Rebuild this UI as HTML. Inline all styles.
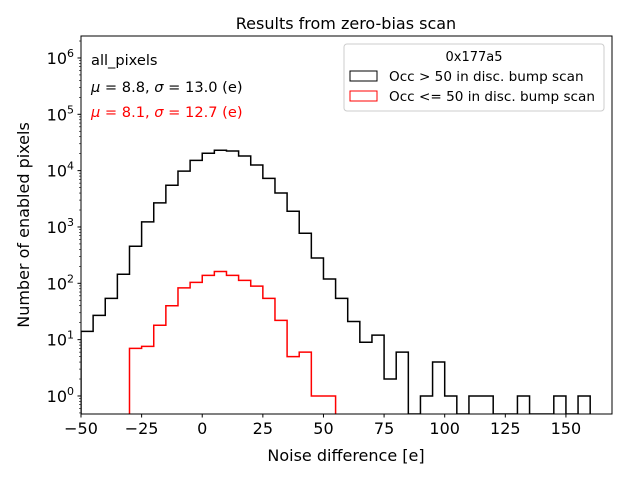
<!DOCTYPE html>
<html><head><meta charset="utf-8"><style>
body{margin:0;background:#fff;font-family:"Liberation Sans","DejaVu Sans",sans-serif}
svg text{font-family:"DejaVu Sans","Liberation Sans",sans-serif}
</style></head><body>
<svg id="chart" width="640" height="480" xmlns="http://www.w3.org/2000/svg">
<rect width="640" height="480" fill="#fff"/>
<text x="346" y="29" font-size="16" text-anchor="middle">Results from zero-bias scan</text>
<g id="plot"></g>
<rect x="81" y="36" width="531" height="378" fill="none" stroke="#000" stroke-width="1"/>
<text x="346" y="461" font-size="16" text-anchor="middle">Noise difference [e]</text>
<text transform="translate(29,225) rotate(-90)" font-size="16" text-anchor="middle">Number of enabled pixels</text>
<text x="91" y="65" font-size="14.6">all_pixels</text>
<text x="91" y="92" font-size="14.6"><tspan font-style="italic">μ</tspan> = 8.8, <tspan font-style="italic">σ</tspan> = 13.0 (e)</text>
<text x="91" y="117" font-size="14.6" fill="#f00"><tspan font-style="italic">μ</tspan> = 8.1, <tspan font-style="italic">σ</tspan> = 12.7 (e)</text>
<g>
<rect x="344" y="44" width="260" height="67" rx="3" fill="#fff" stroke="#ccc"/>
<text x="474" y="61" font-size="13" text-anchor="middle">0x177a5</text>
<rect x="350" y="71" width="27" height="10" fill="none" stroke="#000"/>
<text x="389" y="81" font-size="13.6">Occ &gt; 50 in disc. bump scan</text>
<rect x="350" y="91" width="27" height="10" fill="none" stroke="#f00"/>
<text x="389" y="101" font-size="13.6">Occ &lt;= 50 in disc. bump scan</text>
</g>
</svg>
<script>
const binStart = -50, binWidth = 5;
const blackCounts = [14,27,54,145,455,1230,2680,5500,9800,15200,20400,23000,22300,18200,12600,7300,4000,1900,775,282,119,54,21,9,12,2,6,0,1,4,1,0,1,1,0,0,1,0,0,1,0,1];
const redStart = -30;
const redCounts = [7,7.6,18,40,83,104,138,162,138,113,89,54,22,5,6,1,1];
const xTicks = [-50,-25,0,25,50,75,100,125,150];
const yTickExps = [0,1,2,3,4,5,6];
const X0=81,X1=612,Y0=414,Y1=36;
const xmin=-50,xmax=169;
const ymin=-0.32,ymax=6.39;
function sx(v){return X0+(v-xmin)/(xmax-xmin)*(X1-X0);}
function sy(v){if(v<=0)return Y0;const l=Math.log10(v);return Y0-(l-ymin)/(ymax-ymin)*(Y0-Y1);}
const NS="http://www.w3.org/2000/svg";
const plot=document.getElementById('plot');
function mk(t,a){const e=document.createElementNS(NS,t);for(const k in a)e.setAttribute(k,a[k]);return e;}
function stepPath(start,counts){
  let d="M"+sx(start)+","+Y0;
  counts.forEach((c,i)=>{const y=Math.min(sy(c),Y0);d+=" L"+sx(start+i*binWidth)+","+y+" L"+sx(start+(i+1)*binWidth)+","+y;});
  d+=" L"+sx(start+counts.length*binWidth)+","+Y0;
  return d;
}
const clip=mk('clipPath',{id:'cp'});clip.appendChild(mk('rect',{x:X0,y:Y1,width:X1-X0,height:Y0-Y1}));plot.appendChild(clip);
const pb=mk('path',{d:stepPath(binStart,blackCounts),fill:'none',stroke:'#000','stroke-width':1.5,'clip-path':'url(#cp)'});


plot.appendChild(pb);
const pr=mk('path',{d:stepPath(redStart,redCounts),fill:'none',stroke:'#f00','stroke-width':1.5,'clip-path':'url(#cp)'});


plot.appendChild(pr);
xTicks.forEach(t=>{const x=sx(t);
  const l=mk('line',{x1:x,x2:x,y1:Y0,y2:Y0+3.5,stroke:'#000'});
  
  
  plot.appendChild(l);
  const tx=mk('text',{x:x,y:Y0+20,'font-size':16,'text-anchor':'middle'});tx.textContent=(t<0?'\u2212'+(-t):t);
  
  
  plot.appendChild(tx);});
yTickExps.forEach(e=>{const y=sy(Math.pow(10,e));
  const l=mk('line',{x1:X0-3.5,x2:X0,y1:y,y2:y,stroke:'#000'});
  
  
  plot.appendChild(l);
  const tx=mk('text',{x:X0-7,y:y+6,'font-size':16,'text-anchor':'end'});
  tx.innerHTML='10<tspan dy="-7" font-size="11">'+e+'</tspan>';
  
  
  plot.appendChild(tx);});
for(let e=-1;e<=6;e++)for(let m=2;m<=9;m++){const v=m*Math.pow(10,e);const y=sy(v);if(y<Y1||y>Y0)continue;
  const l=mk('line',{x1:X0-2,x2:X0,y1:y,y2:y,stroke:'#000','stroke-width':0.6});
  
  
  plot.appendChild(l);}
</script>
</body></html>
